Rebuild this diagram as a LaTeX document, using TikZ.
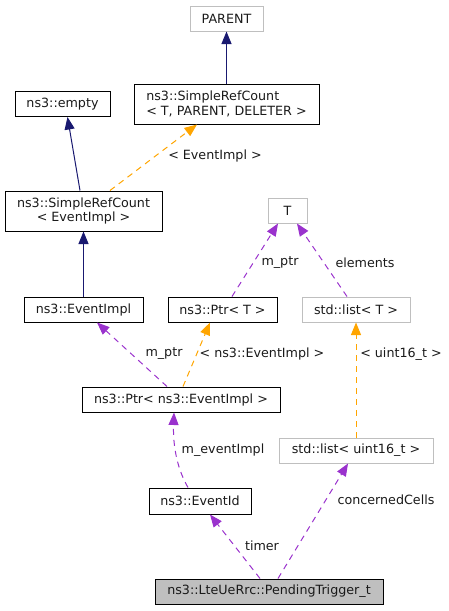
\documentclass[tikz,border=0pt]{standalone}
\usepackage{fontspec}
\setmainfont{DejaVu Sans}
\usetikzlibrary{arrows.meta,calc}
\definecolor{navyedge}{RGB}{25,25,112}
\definecolor{orangeedge}{RGB}{255,165,0}
\definecolor{purpleedge}{RGB}{154,50,205}
\definecolor{greyborder}{RGB}{191,191,191}
\definecolor{txt}{RGB}{26,26,26}
\tikzset{
  box/.style={draw=black, line width=1pt, inner sep=0pt, text=txt, font=\fontsize{12.7}{14.3}\selectfont, align=center},
  greybox/.style={box, draw=greyborder},
  focusbox/.style={box, fill=greyborder},
  inherit/.style={draw=navyedge, line width=1pt, -{Triangle[length=12.5pt,width=10pt,fill=navyedge]}},
  tmpl/.style={draw=orangeedge, line width=1pt, dash pattern=on 6pt off 5pt, -{Triangle[length=12.5pt,width=10pt,fill=orangeedge]}},
  usage/.style={draw=purpleedge, line width=1pt, dash pattern=on 6pt off 5pt, -{Triangle[length=12.5pt,width=10pt,fill=purpleedge]}},
  lbl/.style={text=txt, font=\fontsize{12.7}{14.3}\selectfont, inner sep=0pt}
}
\begin{document}
\begin{tikzpicture}[x=1pt,y=-1pt]
\useasboundingbox (0,0) rectangle (449,611);
% nodes
\node[greybox, minimum width=73pt, minimum height=25pt] (parent) at (226.5,18.5) {PARENT};
\node[box, minimum width=185pt, minimum height=40pt, align=left] (srctpd) at (226.5,104) {ns3::SimpleRefCount\\< T, PARENT, DELETER >};
\node[box, minimum width=95pt, minimum height=25pt] (empty) at (62.5,104) {ns3::empty};
\node[box, minimum width=157pt, minimum height=40pt] (srce) at (83.5,211) {ns3::SimpleRefCount\\< EventImpl >};
\node[greybox, minimum width=39pt, minimum height=25pt] (T) at (287.5,210.5) {T};
\node[box, minimum width=119pt, minimum height=25pt] (eventimpl) at (83.5,309.5) {ns3::EventImpl};
\node[box, minimum width=109pt, minimum height=25pt] (ptrt) at (222.5,309.5) {ns3::Ptr< T >};
\node[greybox, minimum width=108pt, minimum height=25pt] (listt) at (356,309.5) {std::list< T >};
\node[box, minimum width=198pt, minimum height=25pt] (ptre) at (181,399.5) {ns3::Ptr< ns3::EventImpl >};
\node[greybox, minimum width=154pt, minimum height=25pt] (listu) at (356,450.5) {std::list< uint16\_t >};
\node[box, minimum width=102pt, minimum height=26pt] (eventid) at (200,501) {ns3::EventId};
\node[focusbox, minimum width=228pt, minimum height=25pt] (pending) at (269,591.5) {ns3::LteUeRrc::PendingTrigger\_t};
% edges
\draw[inherit] (srctpd.north) -- (parent.south);
\draw[inherit] ($(srce.north)+(-3.5,0)$) -- ($(empty.south)+(5,0)$);
\draw[tmpl] ($(srce.north)+(26.5,0)$) -- ($(srctpd.south)+(-29.5,0)$);
\draw[inherit] (eventimpl.north) -- (srce.south);
\draw[usage] ($(ptrt.north)+(9.5,0)$) -- ($(T.south)+(-9.5,0)$);
\draw[usage] ($(listt.north)+(-9,0)$) -- ($(T.south)+(9.5,0)$);
\draw[usage] ($(ptre.north)+(-14,0)$) -- ($(eventimpl.south)+(13.5,0)$);
\draw[tmpl] ($(ptre.north)+(2,0)$) -- ($(ptrt.south)+(-12.5,0)$);
\draw[tmpl] (listu.north) -- (listt.south);
\draw[usage] ($(eventid.north)+(-12,0)$) .. controls (175,465) and (173,440) .. ($(ptre.south)+(-7,0)$);
\draw[usage] ($(pending.north)+(-9,0)$) -- ($(eventid.south)+(10,0)$);
\draw[usage] ($(pending.north)+(9,0)$) -- ($(listu.south)+(-8,0)$);
% labels
\node[lbl] (l1) at (215,156) {< EventImpl >};
\node[lbl] (l2) at (280,263) {m\_ptr};
\node[lbl] (l3) at (365,263) {elements};
\node[lbl] (l4) at (164,354) {m\_ptr};
\node[lbl] (l5) at (262,354) {< ns3::EventImpl >};
\node[lbl] (l6) at (401,354) {< uint16\_t >};
\node[lbl] (l7) at (223,450) {m\_eventImpl};
\node[lbl] (l8) at (386,500) {concernedCells};
\node[lbl] (l9) at (262,546) {timer};
\end{tikzpicture}
\end{document}
